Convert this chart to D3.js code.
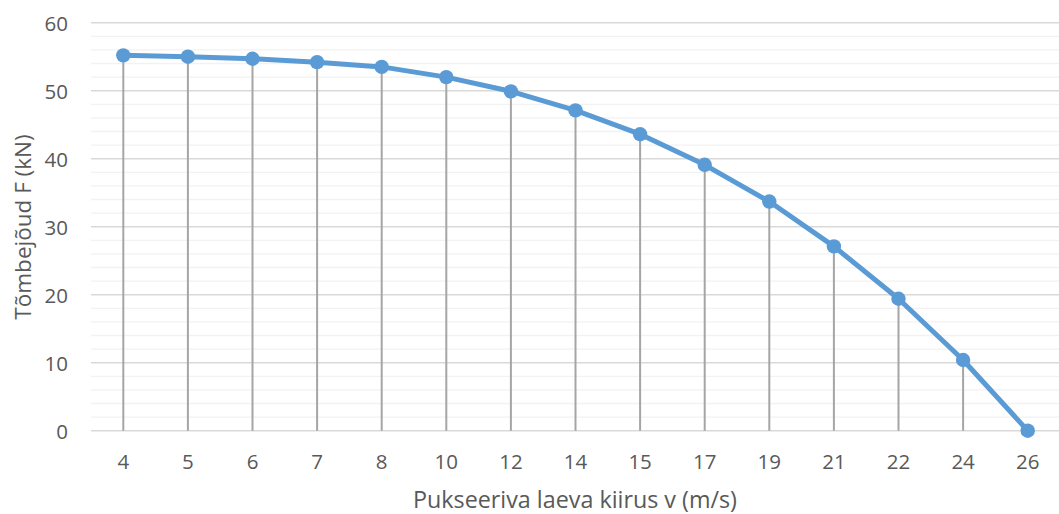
<!DOCTYPE html>
<html><head><meta charset="utf-8">
<script src="https://cdn.jsdelivr.net/npm/d3@7"></script>
<style>body{margin:0;background:#fff;} text{font-family:"Open Sans",sans-serif;fill:#595959;}</style>
</head><body><svg id="c" width="1059" height="514"></svg>
<script>
const categories = ["4","5","6","7","8","10","12","14","15","17","19","21","22","24","26"];
const forceValues = [55.2,55.0,54.7,54.2,53.5,52.0,49.9,47.1,43.6,39.1,33.7,27.1,19.4,10.4,0];
const yTicks = [0,10,20,30,40,50,60];
const xTitle = "Pukseeriva laeva kiirus v (m/s)";
const yTitle = "Tõmbejõud F (kN)";

const svg = d3.select("#c");
const L = 91, R = 1060, T = 22.7, B = 430.7;
const x = d3.scaleBand().domain(categories).range([L, R]);
const y = d3.scaleLinear().domain([0, 60]).range([B, T]);
const cx = d => x(d) + x.bandwidth()/2;

// minor gridlines
const minor = d3.range(0, 61, 2).filter(v => v % 10 !== 0);
svg.append("g").selectAll("line").data(minor).join("line")
  .attr("x1", L).attr("x2", R).attr("y1", d => y(d)).attr("y2", d => y(d))
  .attr("stroke", "#F2F2F2").attr("stroke-width", 1.3);
// major gridlines
svg.append("g").selectAll("line").data(yTicks).join("line")
  .attr("x1", L).attr("x2", R).attr("y1", d => y(d)).attr("y2", d => y(d))
  .attr("stroke", "#D9D9D9").attr("stroke-width", 1.5);

// y axis labels
const yAxis = d3.axisLeft(y).tickValues(yTicks).tickSize(0).tickPadding(0);
const gy = svg.append("g").attr("transform", `translate(68,0)`).call(yAxis);
gy.select(".domain").remove();
gy.selectAll("text").style("font-size", "20.5px").attr("fill", "#595959").attr("dy", "0.36em");

// x axis labels
const xAxis = d3.axisBottom(x).tickSize(0).tickPadding(0);
const gx = svg.append("g").attr("transform", `translate(0,${B})`).call(xAxis);
gx.select(".domain").remove();
gx.selectAll("text").style("font-size", "20.5px").attr("fill", "#595959").attr("dy", "38.5px").attr("y", 0);

// drop lines
const data = categories.map((c, i) => ({c, v: forceValues[i]}));
svg.append("g").selectAll("line").data(data).join("line")
  .attr("x1", d => cx(d.c)).attr("x2", d => cx(d.c))
  .attr("y1", d => y(d.v)).attr("y2", B)
  .attr("stroke", "#A5A5A5").attr("stroke-width", 2);

// line
svg.append("path").datum(data)
  .attr("d", d3.line().x(d => cx(d.c)).y(d => y(d.v)))
  .attr("fill", "none").attr("stroke", "#5B9BD5").attr("stroke-width", 5)
  .attr("stroke-linejoin", "round");
svg.append("g").selectAll("circle").data(data).join("circle")
  .attr("cx", d => cx(d.c)).attr("cy", d => y(d.v)).attr("r", 7.2)
  .attr("fill", "#5B9BD5");

// titles
svg.append("text").attr("x", 575).attr("y", 500).attr("dy", "0.35em")
  .attr("text-anchor", "middle").style("font-size", "23.3px").text(xTitle);
svg.append("text").attr("transform", "translate(23,227) rotate(-90)").attr("dy", "0.35em")
  .attr("text-anchor", "middle").style("font-size", "22.5px").text(yTitle);
</script></body></html>
